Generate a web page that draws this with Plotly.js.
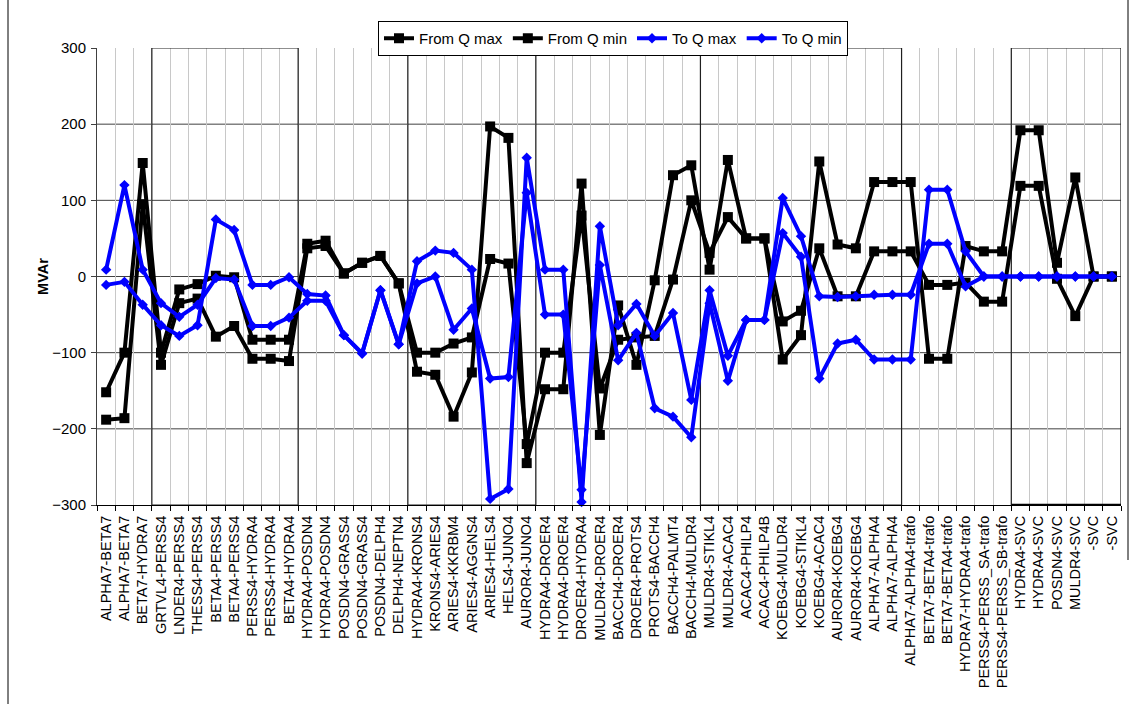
<!DOCTYPE html>
<html>
<head>
<meta charset="utf-8">
<script src="https://cdn.plot.ly/plotly-3.0.1.min.js"></script>
<style>
  html, body { margin: 0; padding: 0; background: #fff; }
  #chart { width: 1138px; height: 704px; }
</style>
</head>
<body>
<div id="chart"></div>
<script>
const categories = [
  "ALPHA7-BETA7", "ALPHA7-BETA7", "BETA7-HYDRA7", "GRTVL4-PERSS4", "LNDER4-PERSS4",
  "THESS4-PERSS4", "BETA4-PERSS4", "BETA4-PERSS4", "PERSS4-HYDRA4", "PERSS4-HYDRA4",
  "BETA4-HYDRA4", "HYDRA4-POSDN4", "HYDRA4-POSDN4", "POSDN4-GRASS4", "POSDN4-GRASS4",
  "POSDN4-DELPH4", "DELPH4-NEPTN4", "HYDRA4-KRONS4", "KRONS4-ARIES4", "ARIES4-KKRBM4",
  "ARIES4-AGGNS4", "ARIES4-HELS4", "HELS4-JUNO4", "AUROR4-JUNO4", "HYDRA4-DROER4",
  "HYDRA4-DROER4", "DROER4-HYDRA4", "MULDR4-DROER4", "BACCH4-DROER4", "DROER4-PROTS4",
  "PROTS4-BACCH4", "BACCH4-PALMT4", "BACCH4-MULDR4", "MULDR4-STIKL4", "MULDR4-ACAC4",
  "ACAC4-PHILP4", "ACAC4-PHILP4B", "KOEBG4-MULDR4", "KOEBG4-STIKL4", "KOEBG4-ACAC4",
  "AUROR4-KOEBG4", "AUROR4-KOEBG4", "ALPHA7-ALPHA4", "ALPHA7-ALPHA4", "ALPHA7-ALPHA4-trafo",
  "BETA7-BETA4-trafo", "BETA7-BETA4-trafo", "HYDRA7-HYDRA4-trafo", "PERSS4-PERSS_SA-trafo", "PERSS4-PERSS_SB-trafo",
  "HYDRA4-SVC", "HYDRA4-SVC", "POSDN4-SVC", "MULDR4-SVC", "-SVC", "-SVC"
];

const fromQmax = [
  -188, -186, 95, -116, -35, -29, -79, -65, -108, -108,
  -111, 37, 40, 4, 18, 27, -9, -125, -129, -184,
  -126, 197, 182, -245, -148, -148, 122, -208, -38, -116,
  -5, 133, 146, 9, 153, 50, 50, -109, -77, 151,
  42, 37, 124, 124, 124, -108, -108, 40, 33, 33,
  192, 192, 18, 130, 0, 0
];

const fromQmin = [
  -152, -100, 149, -100, -17, -10, 1, -1, -83, -83,
  -83, 43, 47, 4, 18, 27, -9, -100, -100, -88,
  -80, 23, 17, -220, -100, -100, 80, -147, -83, -80,
  -78, -4, 100, 31, 78, 50, 50, -59, -45, 37,
  -26, -26, 33, 33, 33, -11, -11, -8, -33, -33,
  119, 119, -3, -52, 0, 0
];

const toQmax = [
  -11, -7, -37, -64, -78, -64, 75, 61, -11, -11,
  -1, -23, -25, -77, -101, -18, -89, 20, 34, 31,
  9, -292, -279, 156, 9, 9, -296, 66, -64, -36,
  -78, -48, -162, -18, -104, -57, -57, 103, 53, -26,
  -27, -26, -24, -24, -24, 43, 43, -13, 0, 0,
  0, 0, 0, 0, 0, 0
];

const toQmin = [
  9, 120, 9, -35, -53, -37, -2, -4, -65, -65,
  -54, -32, -32, -77, -101, -18, -89, -9, 0, -70,
  -42, -134, -132, 110, -50, -50, -280, 15, -110, -74,
  -173, -184, -211, -35, -137, -57, -57, 57, 26, -134,
  -88, -83, -109, -109, -109, 114, 114, 33, 0, 0,
  0, 0, 0, 0, 0, 0
];

const seriesNames = ["From Q max", "From Q min", "To Q max", "To Q min"];
const yTicks = [-300, -200, -100, 0, 100, 200, 300];
// groups of categories framed by boxes (first and last index, 0-based)
const boxGroups = [[3, 10], [17, 23], [33, 43], [50, 55]];

const xIdx = categories.map((_, i) => i);
const boundaries = categories.concat([""]).map((_, i) => i - 0.5);

function lineTrace(name, y, color, symbol, size) {
  return {
    type: "scatter", mode: "lines+markers", name: name,
    x: xIdx, y: y,
    line: { color: color, width: 4 },
    marker: { color: color, symbol: symbol, size: size, line: { width: 0 } },
    cliponaxis: false
  };
}

const data = [
  lineTrace(seriesNames[0], fromQmax, "#000000", "square", 10),
  lineTrace(seriesNames[1], fromQmin, "#000000", "square", 10),
  lineTrace(seriesNames[2], toQmax, "#0000ff", "diamond", 8),
  lineTrace(seriesNames[3], toQmin, "#0000ff", "diamond", 8)
];

const shapes = [];
// horizontal gridlines (interior ticks only)
yTicks.slice(1, -1).forEach(v => {
  shapes.push({ type: "line", xref: "paper", yref: "y", x0: 0, x1: 1, y0: v, y1: v,
    line: { color: "#404040", width: 1 }, layer: "between" });
});
boxGroups.forEach(g => {
  shapes.push({ type: "rect", xref: "x", yref: "y", x0: g[0] - 0.5, x1: g[1] + 0.5,
    y0: yTicks[0], y1: yTicks[yTicks.length - 1],
    line: { color: "#202020", width: 1.2 }, fillcolor: "rgba(0,0,0,0)", layer: "between" });
});
// thicker bottom edge of last box
const lastBox = boxGroups[boxGroups.length - 1];
shapes.push({ type: "line", xref: "x", yref: "y", x0: lastBox[0] - 0.5, x1: lastBox[1] + 0.5,
  y0: yTicks[0], y1: yTicks[0], line: { color: "#000", width: 2.5 }, layer: "above" });

// outer frame lines of the chart area
const L = 97, R = 17, T = 48, B = 199, W = 1138, H = 704;
const pw = W - L - R, ph = H - T - B;
const px2x = px => (px - L) / pw;
const py2y = py => (H - B - py) / ph;
shapes.push({ type: "line", xref: "paper", yref: "paper", x0: px2x(8), x1: px2x(8), y0: py2y(0), y1: py2y(704),
  line: { color: "#000", width: 1 } });
shapes.push({ type: "line", xref: "paper", yref: "paper", x0: px2x(1128), x1: px2x(1128), y0: py2y(0), y1: py2y(560),
  line: { color: "#000", width: 1 } });

const font = { family: "'Liberation Sans', Arial, sans-serif", size: 14.5, color: "#000" };

const layout = {
  width: W, height: H,
  margin: { l: L, r: R, t: T, b: B, pad: 0 },
  paper_bgcolor: "#fff", plot_bgcolor: "#fff",
  font: font,
  showlegend: true,
  legend: {
    orientation: "h", x: px2x(613), xanchor: "center", y: py2y(21), yanchor: "top",
    bordercolor: "#000", borderwidth: 1, bgcolor: "#fff",
    font: { family: font.family, size: 15, color: "#000" },
    itemwidth: 30, tracegroupgap: 0
  },
  xaxis: {
    type: "linear", range: [-0.5, categories.length - 0.5],
    tickmode: "array", tickvals: xIdx, ticktext: categories,
    tickangle: -90, ticks: "", showgrid: false, zeroline: false,
    showline: true, linecolor: "#000", linewidth: 1,
    tickfont: { family: font.family, size: 14.5, color: "#000" },
    minor: { tickmode: "array", tickvals: boundaries, ticks: "outside", ticklen: 5,
      tickcolor: "#000", showgrid: true, gridcolor: "#c8c8c8", gridwidth: 1 },
    ticklabelstandoff: 4,
    fixedrange: true
  },
  yaxis: {
    range: [yTicks[0], yTicks[yTicks.length - 1]],
    tickmode: "array", tickvals: yTicks,
    ticks: "outside", ticklen: 5, tickcolor: "#404040",
    showgrid: false, zeroline: false,
    showline: true, linecolor: "#404040", linewidth: 1,
    tickfont: { family: font.family, size: 15, color: "#000" },
    ticklabelstandoff: 2,
    title: { text: "<b>MVAr</b>", font: { family: font.family, size: 14.5, color: "#000" }, standoff: 0 },
    fixedrange: true
  },
  shapes: shapes
};

Plotly.newPlot("chart", data, layout, { staticPlot: true, displayModeBar: false });
</script>
</body>
</html>
